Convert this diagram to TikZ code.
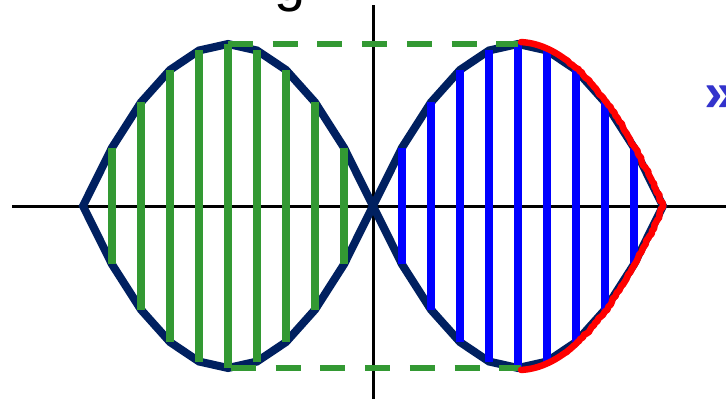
\documentclass[tikz,border=0pt]{standalone}
\usepackage{fontspec}
\setmainfont{Liberation Sans}
\usetikzlibrary{decorations.pathmorphing}
\definecolor{navy}{RGB}{0,32,96}
\definecolor{grn}{RGB}{51,153,51}
\definecolor{chev}{RGB}{51,51,204}
\begin{document}
\begin{tikzpicture}[x=1pt,y=-1pt,
  axis/.style={black,line width=3pt},
  curve/.style={navy,line width=8pt,line join=miter},
  gbar/.style={grn,line width=8pt},
  bbar/.style={blue,line width=8pt},
  gdash/.style={grn,line width=6.5pt,dash pattern=on 25pt off 19.7pt},
  redline/.style={red,line width=6.5pt,line join=round,line cap=round}]
\useasboundingbox (0,0) rectangle (726,399);
\clip (0,0) rectangle (726,399);
% axes
\draw[axis] (12,206) -- (726,206);
\draw[axis] (373,5) -- (373,399);
% figure-eight curve
\draw[curve] (83,206)
  -- plot[samples at={1,...,9}] ({83+29*\x},{206-162*(1-((\x-5)/5)^2)})
  -- (373,206)
  -- plot[samples at={1,...,9}] ({373+29*\x},{206+162*(1-((\x-5)/5)^2)})
  -- (663,206)
  -- plot[samples at={9,8,...,1}] ({373+29*\x},{206-162*(1-((\x-5)/5)^2)})
  -- (373,206)
  -- plot[samples at={9,8,...,1}] ({83+29*\x},{206+162*(1-((\x-5)/5)^2)})
  -- cycle;
% bars
\foreach \k in {1,...,9}{
  \pgfmathsetmacro\hh{162*(1-((\k-5)/5)^2)}
  \draw[gbar] ({83+29*\k},{206-\hh}) -- ({83+29*\k},{206+\hh});
  \draw[bbar] ({373+29*\k},{206-\hh}) -- ({373+29*\k},{206+\hh});
}
% dashed lines
\draw[gdash] (228,44) -- (518,44);
\draw[gdash] (231,368) -- (521,368);
% red outline
\pgfmathsetseed{7}
\draw[redline,decorate,decoration={random steps,segment length=3pt,amplitude=1.1pt}]
  plot[domain=521:663,samples=40] (\x,{205-163*(1-((\x-518)/145)^2)})
  -- plot[domain=663:521,samples=40] (\x,{207+163*(1-((\x-518)/145)^2)});
% texts
\node[font=\fontsize{56}{60}\selectfont,anchor=base,inner sep=0pt] (g) at (290,0) {g};
\node[font=\bfseries\fontsize{56}{60}\selectfont,text=chev,anchor=base west,inner sep=0pt] (chevron) at (704,111) {»};
\end{tikzpicture}
\end{document}
